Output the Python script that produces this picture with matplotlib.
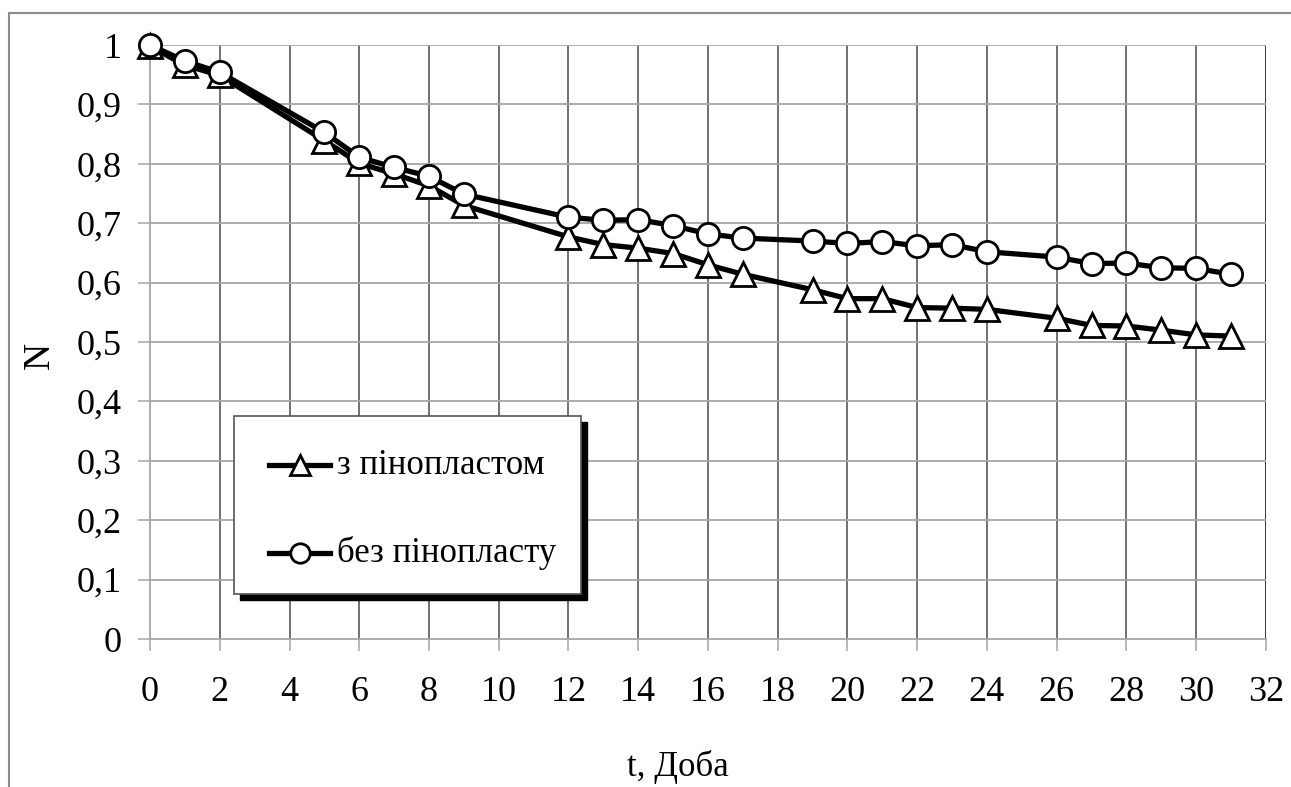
import matplotlib.pyplot as plt
from matplotlib.patches import Rectangle
from matplotlib.lines import Line2D

# ---- data ----
days = [0, 1, 2, 5, 6, 7, 8, 9, 12, 13, 14, 15, 16, 17, 19, 20, 21, 22, 23, 24,
        26, 27, 28, 29, 30, 31]
n_foam = [0.998, 0.966, 0.949, 0.839, 0.801, 0.783, 0.763, 0.730, 0.677, 0.664,
          0.658, 0.649, 0.630, 0.614, 0.588, 0.573, 0.573, 0.558, 0.557, 0.555,
          0.540, 0.528, 0.527, 0.520, 0.512, 0.510]
n_no_foam = [1.0, 0.973, 0.954, 0.853, 0.811, 0.794, 0.779, 0.749, 0.710, 0.705,
             0.706, 0.696, 0.682, 0.675, 0.670, 0.666, 0.669, 0.662, 0.664, 0.652,
             0.643, 0.632, 0.633, 0.625, 0.624, 0.614]
label_foam = "з пінопластом"
label_no_foam = "без пінопласту"

x_ticks = list(range(0, 33, 2))
y_ticks = [i / 10 for i in range(11)]
y_ticklabels = ["0", "0,1", "0,2", "0,3", "0,4", "0,5", "0,6", "0,7", "0,8", "0,9", "1"]

plt.rcParams["font.family"] = ["Liberation Serif", "DejaVu Serif"]

fig = plt.figure(figsize=(12.91, 7.87), dpi=100)
ax = fig.add_axes([0.1162, 0.188, 0.8644, 0.7548])

# outer chart border (only left and top are inside the picture)
fig.patches.append(Rectangle((9 / 1291, -0.1), 1.2, 1 - 13 / 787 + 0.1,
                             transform=fig.transFigure, fill=False,
                             edgecolor="#8c8c8c", linewidth=1.5, zorder=0))

ax.set_xlim(0, 32)
ax.set_ylim(0, 1)

ax.set_xticks(x_ticks)
ax.set_yticks(y_ticks)
ax.set_yticklabels(y_ticklabels)

for x in x_ticks[1:]:
    ax.axvline(x, color="#000000" if x == 32 else "#4a4a4a", linewidth=1.1, zorder=1)
for y in y_ticks[1:]:
    ax.axhline(y, color="#a6a6a6", linewidth=1.3, zorder=1)

for side in ["top", "right"]:
    ax.spines[side].set_visible(False)
ax.spines["left"].set_color("#a6a6a6")
ax.spines["bottom"].set_color("#a6a6a6")
ax.spines["left"].set_linewidth(1.3)
ax.spines["bottom"].set_linewidth(1.3)

ax.tick_params(axis="both", direction="out", length=8.5, width=1.1,
               color="#a6a6a6", labelsize=26)
ax.tick_params(axis="x", pad=18)
ax.tick_params(axis="y", pad=12)

ax.plot(days, n_foam, color="black", linewidth=3.8, marker="^", markersize=17,
        markerfacecolor="white", markeredgecolor="black", markeredgewidth=2.0,
        zorder=3, clip_on=False)
ax.plot(days, n_no_foam, color="black", linewidth=3.8, marker="o", markersize=16,
        markerfacecolor="white", markeredgecolor="black", markeredgewidth=2.0,
        zorder=4, clip_on=False)

fig.text(40 / 1291, 1 - 355 / 787, "N", rotation=90, fontsize=27,
         ha="center", va="center")
fig.text(678 / 1291, 1 - 767 / 787, "t, Доба", fontsize=25,
         ha="center", va="center")

# legend box with black drop shadow
lx0, lx1 = 234 / 1291, 581 / 1291
ly0, ly1 = 1 - 594 / 787, 1 - 416 / 787
sh = 6
fig.patches.append(Rectangle((lx0 + sh / 1291, ly0 - sh / 787), lx1 - lx0, ly1 - ly0,
                             transform=fig.transFigure, facecolor="black",
                             edgecolor="black", zorder=5))
fig.patches.append(Rectangle((lx0, ly0), lx1 - lx0, ly1 - ly0,
                             transform=fig.transFigure, facecolor="white",
                             edgecolor="#555555", linewidth=1.2, zorder=6))

for row_y, mk, ms, txt in [(465, "^", 15, label_foam), (553, "o", 14, label_no_foam)]:
    yy = 1 - row_y / 787
    fig.add_artist(Line2D([269 / 1291, 330 / 1291], [yy, yy], transform=fig.transFigure,
                          color="black", linewidth=3.8, zorder=7))
    fig.add_artist(Line2D([300 / 1291], [yy], transform=fig.transFigure, marker=mk,
                          markersize=ms, markerfacecolor="white",
                          markeredgecolor="black", markeredgewidth=2.0,
                          linestyle="none", zorder=8))
    fig.text(337 / 1291, yy, txt, fontsize=25, ha="left", va="center", zorder=8)

fig.savefig("out.png", dpi=100)
